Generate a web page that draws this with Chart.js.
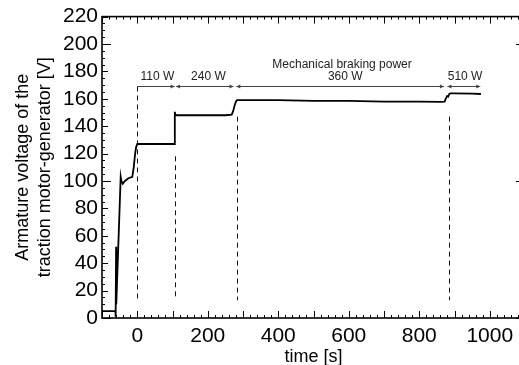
<!DOCTYPE html>
<html><head><meta charset="utf-8">
<script src="https://cdn.jsdelivr.net/npm/chart.js@4/dist/chart.umd.min.js"></script>
<style>html,body{margin:0;padding:0;background:#fff;overflow:hidden;}#wrap{width:530px;height:365px;}</style>
</head><body><div id="wrap"><canvas id="c" width="530" height="365"></canvas></div>
<script>
// ---- data ----
const timeS = [-100, -62, -61.5, -61, -60, -59.5, -47, -45, -41, -35, -25, -14, -10, -6, -3, 0, 30, 60, 90, 106, 106.6, 108, 112, 150, 200, 250, 268, 272, 276, 280, 283, 300, 400, 500, 600, 700, 800, 860, 872, 876, 879, 882, 885, 888, 900, 950, 975];
const voltageV = [5, 5, 1, 1, 52, 10, 103, 100, 98, 100, 102, 103, 110, 120, 125, 127, 127, 127, 127, 127, 150.5, 148.5, 148, 148, 148, 148, 148.5, 151, 155, 158, 159, 159, 159, 158.5, 158.5, 158, 158, 157.8, 158, 160.5, 162, 161.5, 163.5, 164, 164, 163.8, 163.5];
const xTickLabels = [0, 200, 400, 600, 800, 1000];
const yTickLabels = [0, 20, 40, 60, 80, 100, 120, 140, 160, 180, 200, 220];
const markerTimes = [0, 107, 283, 885];
const markerTopV = [169, 118, 147, 147];
const markerBottomV = 13;
const arrowStartT = [0, 110, 281, 880];
const arrowEndT = [106, 273, 870, 973];
const arrowV = 169;
const powerLabels = ['110 W', '240 W', '360 W', '510 W'];
const powerLabelT = [57, 202, 590, 930];
const powerLabelV = 176;
const headerLabel = 'Mechanical braking power';
const headerT = 581;
const headerV = 185;
const yTitle = ['Armature voltage of the', 'traction motor-generator [V]'];
const xTitle = 'time [s]';

const FONT = '"Liberation Sans", Arial, sans-serif';

const framePlugin = {
  id: 'frame',
  afterDatasetsDraw(chart) {
    const ctx = chart.ctx;
    const xs = chart.scales.x, ys = chart.scales.y;
    ctx.save();
    ctx.strokeStyle = '#111';
    ctx.lineWidth = 1;
    ctx.setLineDash([5, 4]);
    markerTimes.forEach((t, i) => {
      const px = Math.round(xs.getPixelForValue(t)) + 0.5;
      ctx.beginPath();
      ctx.moveTo(px, ys.getPixelForValue(markerTopV[i]));
      ctx.lineTo(px, ys.getPixelForValue(markerBottomV));
      ctx.stroke();
    });
    ctx.setLineDash([]);
    ctx.strokeStyle = '#444';
    ctx.fillStyle = '#444';
    const ay = Math.round(ys.getPixelForValue(arrowV)) + 0.5;
    arrowStartT.forEach((t, i) => {
      const x1 = xs.getPixelForValue(t), x2 = xs.getPixelForValue(arrowEndT[i]);
      ctx.beginPath(); ctx.moveTo(x1, ay); ctx.lineTo(x2, ay); ctx.stroke();
      ctx.beginPath(); ctx.moveTo(x2, ay); ctx.lineTo(x2 - 4, ay - 2); ctx.lineTo(x2 - 4, ay + 2); ctx.closePath(); ctx.fill();
      if (i > 0) { ctx.beginPath(); ctx.moveTo(x1, ay); ctx.lineTo(x1 + 4, ay - 2); ctx.lineTo(x1 + 4, ay + 2); ctx.closePath(); ctx.fill(); }
    });
    ctx.fillStyle = '#222';
    ctx.font = '12px ' + FONT;
    ctx.textAlign = 'center';
    ctx.textBaseline = 'middle';
    powerLabels.forEach((s, i) => {
      ctx.fillText(s, xs.getPixelForValue(powerLabelT[i]), ys.getPixelForValue(powerLabelV));
    });
    ctx.fillText(headerLabel, xs.getPixelForValue(headerT), ys.getPixelForValue(headerV));
    ctx.restore();
  },
  afterDraw(chart) {
    const ctx = chart.ctx, a = chart.chartArea;
    const xs = chart.scales.x, ys = chart.scales.y;
    ctx.save();
    ctx.strokeStyle = '#000';
    ctx.lineWidth = 1.6;
    ctx.strokeRect(a.left, a.top, a.right - a.left, a.bottom - a.top);
    ctx.lineWidth = 1;
    ctx.beginPath();
    for (let t = -100; t <= 1100; t += 20) {
      const px = Math.round(xs.getPixelForValue(t)) + 0.5;
      const L = (t % 100 === 0) ? 7 : 3;
      ctx.moveTo(px, a.bottom); ctx.lineTo(px, a.bottom - L);
      ctx.moveTo(px, a.top); ctx.lineTo(px, a.top + L);
    }
    for (let v = 0; v <= 220; v += 5) {
      const py = Math.round(ys.getPixelForValue(v)) + 0.5;
      const L = (v % 100 === 0) ? 9 : (v % 20 === 0 ? 6 : 3);
      ctx.moveTo(a.left, py); ctx.lineTo(a.left + L, py);
      ctx.moveTo(a.right, py); ctx.lineTo(a.right - L, py);
    }
    ctx.stroke();
    ctx.restore();
  }
};

new Chart(document.getElementById('c'), {
  type: 'line',
  data: {
    datasets: [{
      data: timeS.map((t, i) => ({ x: t, y: voltageV[i] })),
      borderColor: '#000',
      borderWidth: 1.8,
      pointRadius: 0,
      tension: 0,
      fill: false
    }]
  },
  options: {
    responsive: false,
    animation: false,
    events: [],
    layout: { padding: { left: 0, right: 5, top: 15, bottom: 0 } },
    plugins: { legend: { display: false }, tooltip: { enabled: false } },
    scales: {
      x: {
        type: 'linear', min: -100, max: 1100,
        afterBuildTicks: s => { s.ticks = xTickLabels.map(v => ({ value: v })); },
        afterFit: s => { s.height = 47; },
        grid: { display: false, drawTicks: false },
        border: { display: false },
        ticks: { color: '#000', font: { family: FONT, size: 21 }, padding: 6, maxRotation: 0, autoSkip: false, callback: v => String(v) },
        title: { display: true, text: xTitle, color: '#000', font: { family: FONT, size: 18, lineHeight: 1 }, padding: { top: 0, bottom: -1 } }
      },
      y: {
        type: 'linear', min: 0, max: 220,
        afterBuildTicks: s => { s.ticks = yTickLabels.map(v => ({ value: v })); },
        afterFit: s => { s.width = 102; },
        grid: { display: false, drawTicks: false },
        border: { display: false },
        ticks: { color: '#000', font: { family: FONT, size: 21 }, padding: 4, autoSkip: false, callback: v => String(v) },
        title: { display: true, text: yTitle, color: '#000', font: { family: FONT, size: 18, lineHeight: 1.22 }, padding: { top: 12, bottom: 0 } }
      }
    }
  },
  plugins: [framePlugin]
});
</script>
</body></html>
